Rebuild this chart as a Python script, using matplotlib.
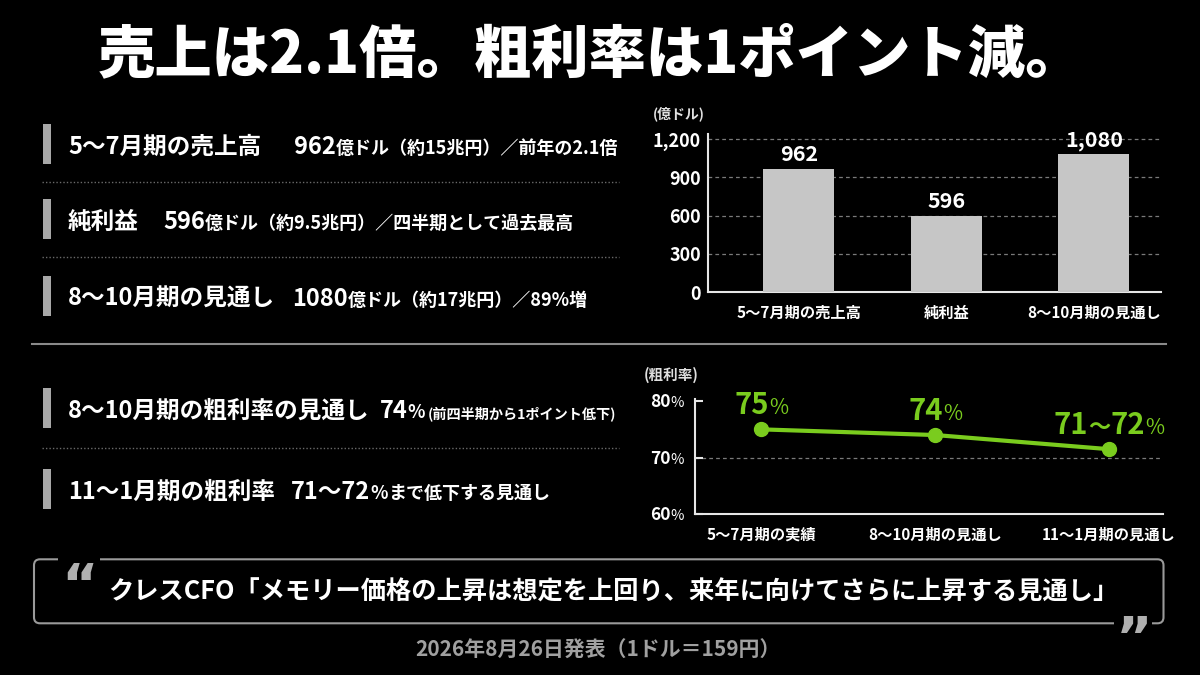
import numpy as np
import matplotlib
matplotlib.use('Agg')
import matplotlib.pyplot as plt
from matplotlib.transforms import IdentityTransform
from matplotlib.patches import FancyBboxPatch, Rectangle
from matplotlib.lines import Line2D

plt.rcParams['font.family'] = ['Noto Sans CJK JP', 'DejaVu Sans']

# ---------------- data ----------------
bar_categories = ['5～7月期の売上高', '純利益', '8～10月期の見通し']
bar_values = [962, 596, 1080]
bar_value_labels = ['962', '596', '1,080']
bar_ticks = [0, 300, 600, 900, 1200]

line_categories = ['5～7月期の実績', '8～10月期の見通し', '11～1月期の見通し']
margin_values = [75, 74, 71.5]
margin_labels = ['75', '74', '71～72']
margin_ticks = [60, 70, 80]

title = '売上は2.1倍。粗利率は1ポイント減。'
quote = 'クレスCFO「メモリー価格の上昇は想定を上回り、来年に向けてさらに上昇する見通し」'
footer = '2026年8月26日発表（1ドル＝159円）'

W, H = 1200, 675
WHITE = '#ffffff'
GREEN = '#7acc1e'
GRID = '#7a7a7a'
CJK = ['Noto Sans CJK JP', 'DejaVu Sans']

fig = plt.figure(figsize=(12, 6.75), dpi=100, facecolor='black')
ID = IdentityTransform()


def put(x, y_top, s, size, weight='bold', color=WHITE, ha='left', va='baseline', family=None, zorder=5):
    kw = {}
    if family:
        kw['family'] = family
    return fig.text(x, H - y_top, s, fontsize=size, fontweight=weight, color=color,
                    ha=ha, va=va, transform=ID, zorder=zorder, **kw)


def runs(x, y_top, parts, ha='left', va='baseline'):
    """parts: (text, size, weight, color) placed one after another."""
    r = fig.canvas.get_renderer()
    objs = []
    total = 0
    for s, size, weight, color in parts:
        t = fig.text(0, 0, s, fontsize=size, fontweight=weight, color=color,
                     ha='left', va=va, transform=ID, zorder=6, family=CJK)
        w = t.get_window_extent(renderer=r).width
        objs.append((t, w))
        total += w
    if ha == 'left':
        cur = x
    elif ha == 'center':
        cur = x - total / 2
    else:
        cur = x - total
    for t, w in objs:
        t.set_position((cur, H - y_top))
        cur += w
    return cur


def hline(x0, x1, y_top, color, lw, ls='-'):
    fig.add_artist(Line2D([x0, x1], [H - y_top, H - y_top], transform=ID,
                          color=color, lw=lw, ls=ls))


# ---------------- title ----------------
put(98, 55, title, 41.3, weight='black', va='center')

# ---------------- left panel ----------------
row_baselines = [154, 229, 306, 418, 499]
for yb in row_baselines:
    fig.add_artist(Rectangle((42.5, H - (yb - 10) - 20), 8, 40, transform=ID,
                             facecolor='#a8a8a8', edgecolor='none'))

BIG, NUM, MID, SMALL = 17, 17, 13, 10.2
rows = [
    (bar_categories[0], 294, [(bar_value_labels[0], NUM, 'bold', WHITE),
                              ('億ドル（約15兆円）／前年の2.1倍', MID, 'bold', WHITE)], None),
    (bar_categories[1], 163, [(bar_value_labels[1], NUM, 'bold', WHITE),
                              ('億ドル（約9.5兆円）／四半期として過去最高', MID, 'bold', WHITE)], None),
    (bar_categories[2], 292, [('1080', NUM, 'bold', WHITE),
                              ('億ドル（約17兆円）／89%増', MID, 'bold', WHITE)], None),
    ('8～10月期の粗利率の見通し', 367, [(margin_labels[1], NUM, 'bold', WHITE),
                                   ('%', MID, 'bold', WHITE)],
     (413, [('(前四半期から1ポイント低下)', SMALL, 'bold', WHITE)])),
    ('11～1月期の粗利率', 291, [(margin_labels[2], NUM, 'bold', WHITE),
                            ('%', MID, 'bold', WHITE),
                            ('まで低下する見通し', MID, 'bold', WHITE)], None),
]
for (label, vx, parts, extra), yb in zip(rows, row_baselines):
    end = runs(68, yb, [(label, BIG, 'bold', WHITE)])
    end = runs(max(vx, end + 10), yb, parts)
    if extra:
        runs(max(extra[0], end + 3), yb, extra[1])

for yd in [181.7, 257.3, 447.7]:
    hline(41.5, 619, yd, '#6a6a6a', 1.0, ls=(0, (1, 1.5)))

hline(32, 1166, 344.3, '#8a8a8a', 1.5)

# ---------------- bar chart ----------------
axb = fig.add_axes([707.7 / W, (H - 292.3) / H, (1161 - 707.7) / W, (292.3 - 134.3) / H])
axb.set_facecolor('black')
xb = np.arange(len(bar_values))
axb.bar(xb, bar_values, width=0.48, color='#c6c6c6', zorder=3)
axb.set_xlim(-0.617, 2.455)
axb.set_ylim(0, 1237)
axb.set_yticks(bar_ticks)
axb.set_yticklabels([f'{v:,}' for v in bar_ticks])
axb.set_xticks(xb)
axb.set_xticklabels(bar_categories)
axb.yaxis.grid(True, color=GRID, ls=(0, (3, 2.5)), lw=0.9, zorder=1)
axb.set_axisbelow(True)
for s in ['top', 'right']:
    axb.spines[s].set_visible(False)
for s in ['left', 'bottom']:
    axb.spines[s].set_color('#e6e6e6')
    axb.spines[s].set_linewidth(1.5)
axb.tick_params(axis='y', colors=WHITE, labelsize=13, length=0, pad=5)
axb.tick_params(axis='x', colors=WHITE, labelsize=11, length=0, pad=9)
for lab in axb.get_yticklabels() + axb.get_xticklabels():
    lab.set_fontweight('bold')
for i, v in enumerate(bar_values):
    axb.annotate(bar_value_labels[i], (i, v), xytext=(0, 6), textcoords='offset points',
                 ha='center', va='baseline', fontsize=15.5, fontweight='bold', color=WHITE)
put(653, 114, '(億ドル)', 10, color='#e0e0e0', va='center')

# ---------------- line chart ----------------
axl = fig.add_axes([695.4 / W, (H - 514.3) / H, (1163.3 - 695.4) / W, (514.3 - 398.8) / H])
axl.set_facecolor('black')
xl = np.arange(len(margin_values))
axl.set_xlim(-0.38, 2.312)
axl.set_ylim(60, 80.4)
axl.axhline(70, color=GRID, ls=(0, (3, 2.5)), lw=0.9, zorder=1)
axl.plot(xl, margin_values, color=GREEN, lw=3, marker='o', ms=10, zorder=4)
axl.set_yticks(margin_ticks)
axl.set_yticklabels([])
axl.set_xticks(xl)
axl.set_xticklabels(line_categories)
for s in ['top', 'right']:
    axl.spines[s].set_visible(False)
for s in ['left', 'bottom']:
    axl.spines[s].set_color('#e6e6e6')
    axl.spines[s].set_linewidth(1.5)
axl.tick_params(axis='y', colors='#e6e6e6', direction='in', length=6, width=1.5)
axl.tick_params(axis='x', colors=WHITE, labelsize=11, length=0, pad=9)
for lab in axl.get_xticklabels():
    lab.set_fontweight('bold')

fig.canvas.draw()
for v in margin_ticks:
    dy = axl.transData.transform((0, v))[1]
    runs(684, H - dy + 6, [(str(v), 12.5, 'bold', WHITE), ('%', 10.5, 'normal', WHITE)], ha='right')
for i, v in enumerate(margin_values):
    dx, dy = axl.transData.transform((i, v))
    parts = []
    pieces = margin_labels[i].split('～')
    for k, piece in enumerate(pieces):
        if k > 0:
            parts.append(('～', 16, 'bold', GREEN))
        parts.append((piece, 21, 'bold', GREEN))
    parts.append(('%', 15, 'normal', GREEN))
    runs(dx, H - dy - 15, parts, ha='center')
put(644, 375, '(粗利率)', 10.5, color='#e0e0e0', va='center')

# ---------------- quote box ----------------
fig.add_artist(FancyBboxPatch((34, H - 623.3), 1129.5, 64, boxstyle='round,pad=0,rounding_size=6',
                              transform=ID, facecolor='none', edgecolor='#9a9a9a', lw=1.5))
fig.add_artist(Rectangle((58, H - 566), 42, 14, transform=ID, facecolor='black', edgecolor='none', zorder=3))
fig.add_artist(Rectangle((1114, H - 630), 38, 14, transform=ID, facecolor='black', edgecolor='none', zorder=3))
put(80, 603, '\u201c', 40, weight='bold', color='#b0b0b0', ha='center', family='DejaVu Sans')
put(1134, 656, '\u201d', 40, weight='bold', color='#b0b0b0', ha='center', family='DejaVu Sans')
put(613, 592, quote, 18.2, va='center', ha='center')

# ---------------- footer ----------------
put(598, 650, footer, 15, color='#a0a0a0', ha='center', va='center')

fig.savefig('out.png', dpi=100, facecolor='black')
